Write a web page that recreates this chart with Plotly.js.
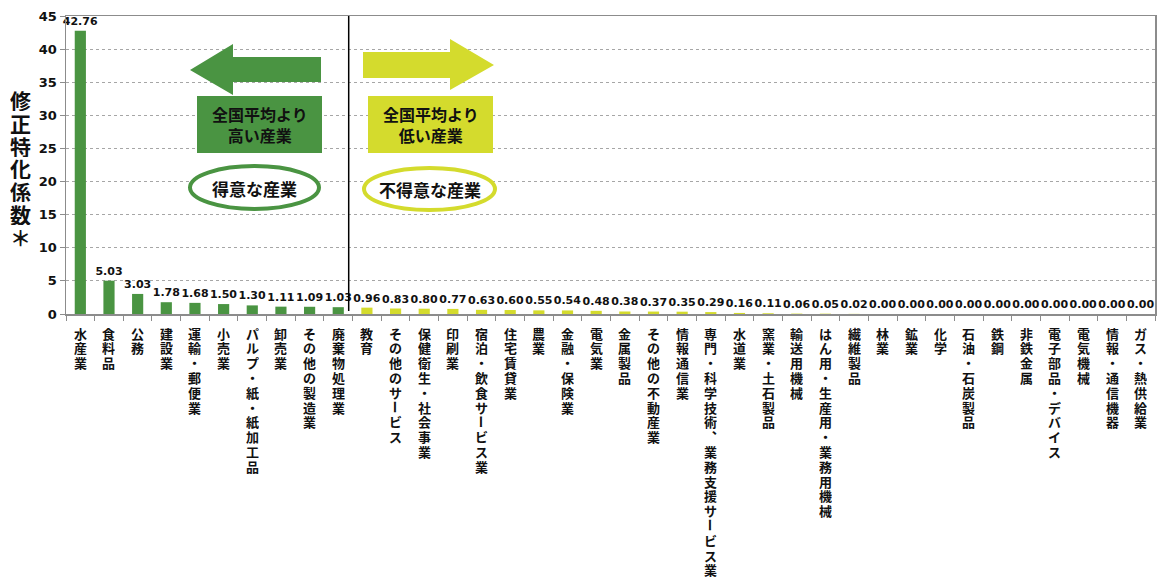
<!DOCTYPE html>
<html>
<head>
<meta charset="utf-8">
<script src="https://cdn.plot.ly/plotly-3.0.1.min.js"></script>
<style>html,body{margin:0;padding:0;background:#fff;}#chart{width:1157px;height:581px;}</style>
</head>
<body>
<div id="chart"></div>
<script>
const categories = ["水産業","食料品","公務","建設業","運輸・郵便業","小売業","パルプ・紙・紙加工品","卸売業","その他の製造業","廃棄物処理業","教育","その他のサービス","保健衛生・社会事業","印刷業","宿泊・飲食サービス業","住宅賃貸業","農業","金融・保険業","電気業","金属製品","その他の不動産業","情報通信業","専門・科学技術、業務支援サービス業","水道業","窯業・土石製品","輸送用機械","はん用・生産用・業務用機械","繊維製品","林業","鉱業","化学","石油・石炭製品","鉄鋼","非鉄金属","電子部品・デバイス","電気機械","情報・通信機器","ガス・熱供給業"];
const values = [42.76,5.03,3.03,1.78,1.68,1.50,1.30,1.11,1.09,1.03,0.96,0.83,0.80,0.77,0.63,0.60,0.55,0.54,0.48,0.38,0.37,0.35,0.29,0.16,0.11,0.06,0.05,0.02,0.00,0.00,0.00,0.00,0.00,0.00,0.00,0.00,0.00,0.00];
const yTitle = "修正特化係数＊";
const highBoxText = "全国平均より<br>高い産業";
const lowBoxText = "全国平均より<br>低い産業";
const highOvalText = "得意な産業";
const lowOvalText = "不得意な産業";

const GREEN = "#4a9442";
const YELLOW = "#d4db2d";
const JP = "'Noto Sans CJK JP', 'Noto Sans', sans-serif";
const NUM = "'DejaVu Sans', Verdana, sans-serif";

// plot area in pixels
const L = 66, R = 1155, T = 16, B = 314;
const px = x => (x - L) / (R - L);
const py = y => (B - y) / (B - T);
const path = pts => 'M' + pts.map(p => px(p[0]).toFixed(5) + ',' + py(p[1]).toFixed(5)).join('L') + 'Z';

const colors = values.map(v => v >= 1 ? GREEN : YELLOW);

const trace = {
  type: 'bar',
  x: categories,
  y: values,
  marker: {color: colors},
  text: values.map(v => v.toFixed(2)),
  textposition: 'outside',
  constraintext: 'none',
  cliponaxis: false,
  textfont: {family: NUM, size: 11, color: '#111', weight: 'bold'},
  hoverinfo: 'x+y'
};

const annotations = [];
// vertical category labels (one character per row)
const vmap = {'、': '︑'};
categories.forEach(c => {
  Array.from(c).forEach((ch, j) => {
    annotations.push({
      x: c, xref: 'x', y: 0, yref: 'y', yanchor: 'middle', xanchor: 'center',
      yshift: -(19 + j * 14.8), showarrow: false,
      text: vmap[ch] || ch,
      textangle: ch === 'ー' ? 90 : 0,
      height: 15,
      font: {family: JP, size: 13, color: '#111', weight: 'bold'}
    });
  });
});
// y axis title, stacked characters
Array.from(yTitle).forEach((ch, j) => {
  annotations.push({
    x: px(20), xref: 'paper', y: py(100 + j * 22.8), yref: 'paper',
    xanchor: 'center', yanchor: 'middle', showarrow: false, text: ch,
    height: 22,
    font: {family: JP, size: 21, color: '#111', weight: 'bold'}
  });
});
// box and oval texts
const boxFont = {family: JP, size: 16, color: '#111', weight: 'bold'};
const ovalFont = {family: JP, size: 17, color: '#111', weight: 'bold'};
annotations.push({x: px(259.5), y: py(125), xref: 'paper', yref: 'paper', xanchor: 'center', yanchor: 'middle',
  showarrow: false, text: highBoxText, font: boxFont});
annotations.push({x: px(430.5), y: py(125), xref: 'paper', yref: 'paper', xanchor: 'center', yanchor: 'middle',
  showarrow: false, text: lowBoxText, font: boxFont});
annotations.push({x: px(254.5), y: py(188), xref: 'paper', yref: 'paper', xanchor: 'center', yanchor: 'middle',
  showarrow: false, text: highOvalText, font: ovalFont});
annotations.push({x: px(429.5), y: py(189), xref: 'paper', yref: 'paper', xanchor: 'center', yanchor: 'middle',
  showarrow: false, text: lowOvalText, font: ovalFont});

const shapes = [
  // divider
  {type: 'line', xref: 'paper', yref: 'paper', x0: px(348.7), x1: px(348.7), y0: py(311), y1: 1,
   line: {color: '#000', width: 1.5}},
  // left arrow
  {type: 'path', xref: 'paper', yref: 'paper', fillcolor: GREEN, line: {width: 0},
   path: path([[190,70],[233,44],[233,57],[321,57],[321,82],[233,82],[233,95]])},
  // right arrow
  {type: 'path', xref: 'paper', yref: 'paper', fillcolor: YELLOW, line: {width: 0},
   path: path([[363,52],[450,52],[450,39],[494,65],[450,90],[450,78],[363,78]])},
  // boxes
  {type: 'rect', xref: 'paper', yref: 'paper', x0: px(197), x1: px(322), y0: py(153), y1: py(96),
   fillcolor: GREEN, line: {width: 0}},
  {type: 'rect', xref: 'paper', yref: 'paper', x0: px(368), x1: px(493), y0: py(153), y1: py(96),
   fillcolor: YELLOW, line: {width: 0}},
  // ovals
  {type: 'circle', xref: 'paper', yref: 'paper', x0: px(190), x1: px(319), y0: py(209), y1: py(166),
   fillcolor: '#fff', line: {color: GREEN, width: 4}},
  {type: 'circle', xref: 'paper', yref: 'paper', x0: px(364), x1: px(495), y0: py(210), y1: py(168),
   fillcolor: '#fff', line: {color: YELLOW, width: 4}}
];

const layout = {
  width: 1157, height: 581,
  margin: {l: L, r: 1157 - R, t: T, b: 581 - B, pad: 0},
  paper_bgcolor: '#fff', plot_bgcolor: '#fff',
  showlegend: false,
  bargap: 0.61,
  xaxis: {
    type: 'category', showticklabels: false, showgrid: false,
    ticks: 'outside', tickson: 'boundaries', ticklen: 5, tickcolor: '#8c8c8c', tickwidth: 1,
    showline: true, linecolor: '#8c8c8c', linewidth: 1.5, mirror: true, zeroline: false,
    fixedrange: true
  },
  yaxis: {
    range: [0, 45], dtick: 5, tick0: 0,
    showgrid: true, gridcolor: '#a6a6a6', griddash: 'dot', gridwidth: 1,
    ticks: 'outside', ticklen: 5, tickcolor: '#8c8c8c',
    showline: true, linecolor: '#8c8c8c', linewidth: 1.5, mirror: true, zeroline: false,
    tickfont: {family: NUM, size: 13, color: '#111', weight: 'bold'},
    fixedrange: true
  },
  annotations: annotations,
  shapes: shapes
};

Plotly.newPlot('chart', [trace], layout, {displayModeBar: false, staticPlot: true});
</script>
</body>
</html>
